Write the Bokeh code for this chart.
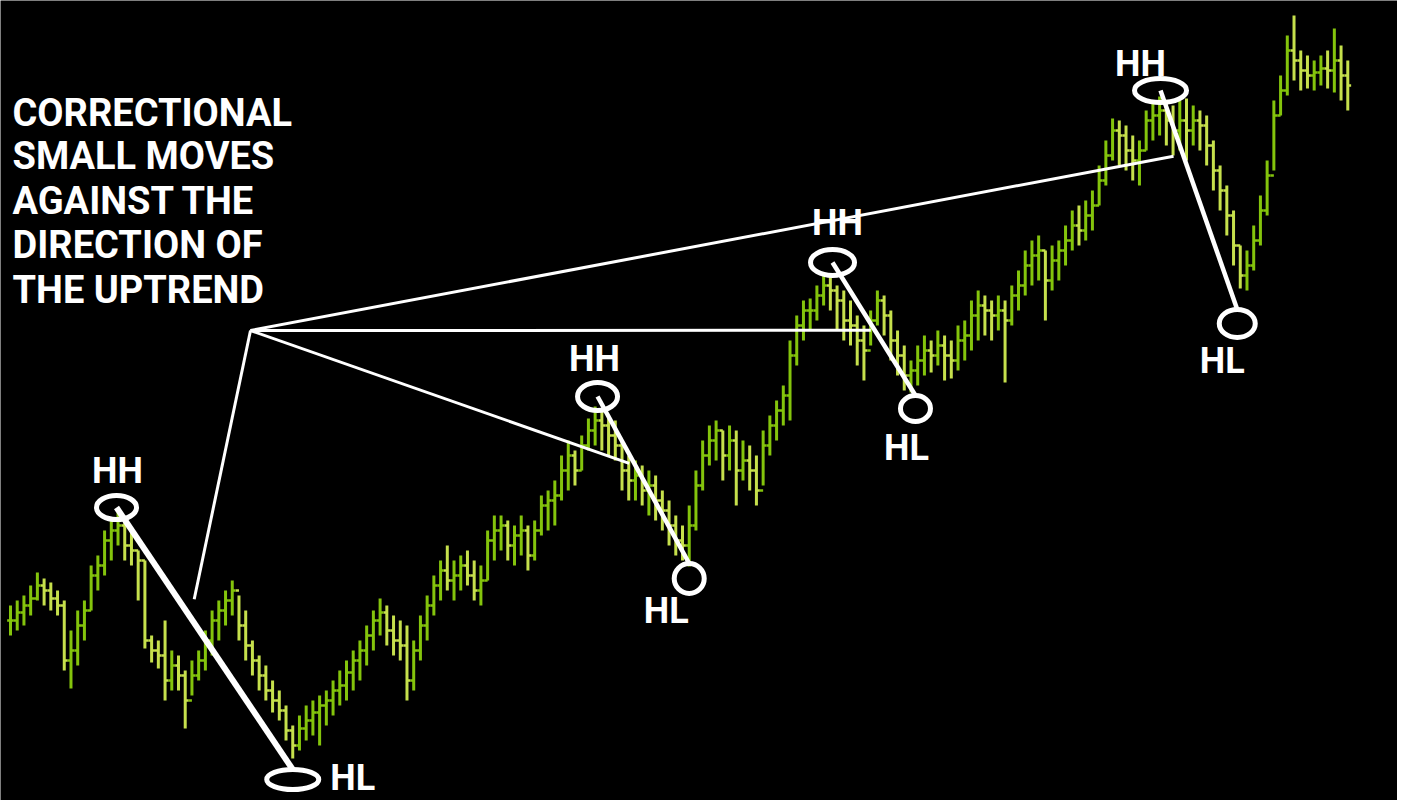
from bokeh.plotting import figure
from bokeh.models import Range1d, ColumnDataSource
from bokeh.core.properties import value
from bokeh.embed import file_html
from bokeh.resources import INLINE

# ---------------- data: OHLC price bars (arbitrary price points) ----------------
highs = [195, 200, 205, 215, 228, 222, 218, 210, 200, 170,
         190, 200, 235, 245, 270, 282, 288, 278, 270, 250,
         240, 165, 160, 180, 150, 145, 130, 140, 150, 170,
         190, 200, 210, 220, 205, 190, 160, 145, 135, 120,
         110, 95, 75, 85, 95, 100, 105, 110, 120, 130,
         140, 150, 160, 175, 190, 202, 195, 185, 180, 175,
         160, 185, 205, 225, 240, 255, 240, 245, 250, 240,
         235, 270, 285, 285, 280, 275, 285, 275, 280, 305,
         310, 320, 345, 360, 350, 365, 382, 394, 390, 385,
         380, 360, 345, 340, 335, 330, 325, 310, 300, 285,
         275, 295, 330, 360, 375, 380, 370, 375, 370, 360,
         355, 345, 370, 385, 400, 415, 460, 485, 500, 502,
         515, 528, 525, 515, 510, 500, 485, 475, 490, 510,
         505, 490, 470, 455, 440, 455, 465, 460, 470, 465,
         460, 475, 480, 500, 510, 505, 500, 505, 500, 515,
         530, 550, 560, 565, 550, 555, 560, 575, 590, 595,
         600, 610, 635, 660, 682, 680, 675, 665, 660, 690,
         700, 704, 700, 695, 700, 702, 695, 690, 685, 660,
         635, 615, 590, 555, 550, 575, 605, 640, 700, 725,
         765, 785, 750, 745, 740, 745, 750, 772, 755, 740]

lows = [165, 170, 175, 185, 200, 195, 190, 185, 130, 112,
        135, 160, 190, 210, 225, 240, 255, 240, 235, 200,
        152, 138, 132, 100, 110, 110, 72, 105, 120, 130,
        145, 160, 175, 185, 160, 140, 125, 110, 100, 88,
        80, 60, 42, 50, 60, 65, 55, 75, 85, 95,
        100, 110, 120, 135, 150, 165, 155, 145, 140, 100,
        110, 140, 160, 185, 200, 210, 200, 210, 215, 200,
        195, 220, 240, 250, 240, 235, 245, 230, 240, 265,
        270, 275, 300, 310, 315, 330, 350, 355, 350, 345,
        340, 310, 300, 300, 295, 285, 280, 270, 255, 245,
        240, 234, 270, 310, 335, 340, 320, 330, 295, 320,
        310, 295, 315, 345, 360, 375, 380, 435, 460, 470,
        480, 495, 490, 470, 460, 455, 435, 420, 455, 475,
        465, 440, 425, 410, 408, 415, 425, 428, 435, 420,
        422, 430, 440, 450, 460, 465, 460, 470, 418, 475,
        490, 505, 515, 520, 480, 510, 520, 535, 550, 555,
        560, 570, 595, 615, 640, 635, 630, 620, 615, 650,
        660, 665, 655, 645, 650, 640, 655, 650, 635, 610,
        590, 565, 535, 512, 510, 530, 555, 585, 630, 685,
        705, 720, 710, 712, 710, 715, 712, 708, 700, 690]

closes = [180, 188, 195, 202, 215, 210, 202, 195, 140, 150,
          175, 190, 225, 235, 260, 270, 275, 255, 250, 240,
          160, 150, 145, 120, 135, 125, 100, 125, 140, 160,
          180, 190, 200, 210, 175, 155, 140, 125, 110, 100,
          90, 70, 55, 72, 80, 88, 95, 100, 110, 115,
          128, 140, 150, 165, 180, 188, 170, 160, 155, 120,
          150, 175, 195, 215, 230, 220, 225, 235, 225, 210,
          220, 260, 270, 275, 255, 265, 270, 245, 270, 295,
          300, 305, 330, 345, 330, 355, 370, 380, 375, 365,
          355, 330, 320, 325, 310, 315, 300, 290, 275, 260,
          255, 275, 315, 345, 360, 370, 345, 360, 330, 340,
          330, 310, 355, 375, 390, 405, 445, 475, 490, 490,
          505, 515, 510, 500, 480, 475, 460, 450, 480, 500,
          485, 460, 445, 425, 430, 440, 450, 445, 455, 445,
          440, 460, 465, 485, 495, 490, 485, 490, 480, 505,
          515, 535, 545, 550, 520, 540, 550, 560, 575, 570,
          585, 595, 620, 645, 670, 665, 650, 640, 650, 680,
          685, 690, 680, 670, 680, 670, 680, 675, 655, 630,
          610, 585, 555, 525, 535, 560, 590, 625, 685, 710,
          750, 740, 730, 725, 728, 732, 730, 740, 725, 715]

# swing points (bar indices) of the uptrend
swing_high_bars = [16, 87, 121, 171]
swing_low_bars = [42, 101, 134, 183]
high_label = "HH"
low_label = "HL"
note_lines = ["CORRECTIONAL", "SMALL MOVES", "AGAINST THE", "DIRECTION OF", "THE UPTREND"]

# ---------------- layout / styles ----------------
W, H = 1397, 800
X0 = -10 / 6.72
X1 = X0 + W / 6.72
PXB = W / (X1 - X0)          # pixels per bar
UP_COL, DN_COL = "#84C40C", "#C6E04C"
FONT = value("Roboto")
TXT_SHIFT = 13               # px the svg text lands below its requested baseline


def bx(px):   # horizontal pixel offset -> bars
    return px / PXB


def sx(X):    # page pixel x -> bar coordinate
    return X0 + X / PXB


def sy(Y):    # page pixel y -> price coordinate
    return H - Y


p = figure(width=W, height=H, x_range=Range1d(X0, X1), y_range=Range1d(0, H),
           output_backend="svg", toolbar_location=None, x_axis_type=None, y_axis_type=None,
           background_fill_color="black", border_fill_color="black",
           outline_line_color=None, min_border=0)
p.grid.visible = False

n = len(closes)
idx = list(range(n))
opens = [closes[0]] + closes[:-1]
colors = [UP_COL if c >= o else DN_COL for o, c in zip(opens, closes)]
src = ColumnDataSource(dict(x=idx, hi=highs, lo=lows, op=opens, cl=closes,
                            xl=[i - 0.5 for i in idx], xr=[i + 0.5 for i in idx], col=colors))
p.segment(x0="x", y0="lo", x1="x", y1="hi", source=src, line_color="col", line_width=3)
p.segment(x0="xl", y0="op", x1="x", y1="op", source=src, line_color="col", line_width=2.5)
p.segment(x0="x", y0="cl", x1="xr", y1="cl", source=src, line_color="col", line_width=2.5)

# ---------------- annotations ----------------
hh_off = [(-1.5, -5), (2.4, -10), (8.9, -10), (0.9, -6)]
hl_off = [(0, 21), (0, 12), (4.5, 16), (-3, 35)]
hh_size = [(40, 24), (40, 28), (44, 26), (52, 24)]
hl_size = [(52, 20), (30, 30), (30, 26), (36, 28)]
hh_txt = [(1, -37), (-3, -38), (5, -40), (-20, -27)]
hl_txt = [(60, -2), (-23, 32), (-9, 39), (-15, 37)]
swing_w = [6, 4.5, 4.5, 4.5]
pointer_t = [0.35, 0.40, 0.51, 0.30]
pointer_dx = [16, -5, -4, -10]
hub = (sx(250), sy(330))

ex, ey, ew, eh = [], [], [], []
tx, ty, tt = [], [], []
for k in range(4):
    a, b = swing_high_bars[k], swing_low_bars[k]
    hx = a + bx(hh_off[k][0]); hy = highs[a] - hh_off[k][1]
    lx = b + bx(hl_off[k][0]); ly = lows[b] - hl_off[k][1]
    ex += [hx, lx]; ey += [hy, ly]
    ew += [hh_size[k][0], hl_size[k][0]]; eh += [hh_size[k][1], hl_size[k][1]]
    tx += [hx + bx(hh_txt[k][0]), lx + bx(hl_txt[k][0])]
    ty += [hy - hh_txt[k][1] - 13 + TXT_SHIFT, ly - hl_txt[k][1] - 13 + TXT_SHIFT]
    tt += [high_label, low_label]
    ly_top = ly + hl_size[k][1] / 2
    p.line([hx, lx], [hy, ly_top], line_color="white", line_width=swing_w[k])
    t = pointer_t[k]
    px_ = hx + t * (lx - hx) + bx(pointer_dx[k])
    py_ = hy + t * (ly_top - hy)
    p.line([hub[0], px_], [hub[1], py_], line_color="white", line_width=3)

p.ellipse(x=ex, y=ey, width=ew, height=eh, width_units="screen", height_units="screen",
          fill_color=None, line_color="white", line_width=5)
p.text(x=tx, y=ty, text=tt, text_font=FONT, text_font_style="bold", text_font_size="36px",
       text_color="white", text_align="center", text_baseline="alphabetic")

base = [125, 168, 213, 257, 302]
p.text(x=[sx(12)] * len(note_lines), y=[sy(b) + TXT_SHIFT for b in base], text=note_lines,
       text_font=FONT, text_font_style="bold", text_font_size="38px",
       text_color="white", text_align="left", text_baseline="alphabetic")

open("out.html", "w").write(file_html(p, INLINE))
